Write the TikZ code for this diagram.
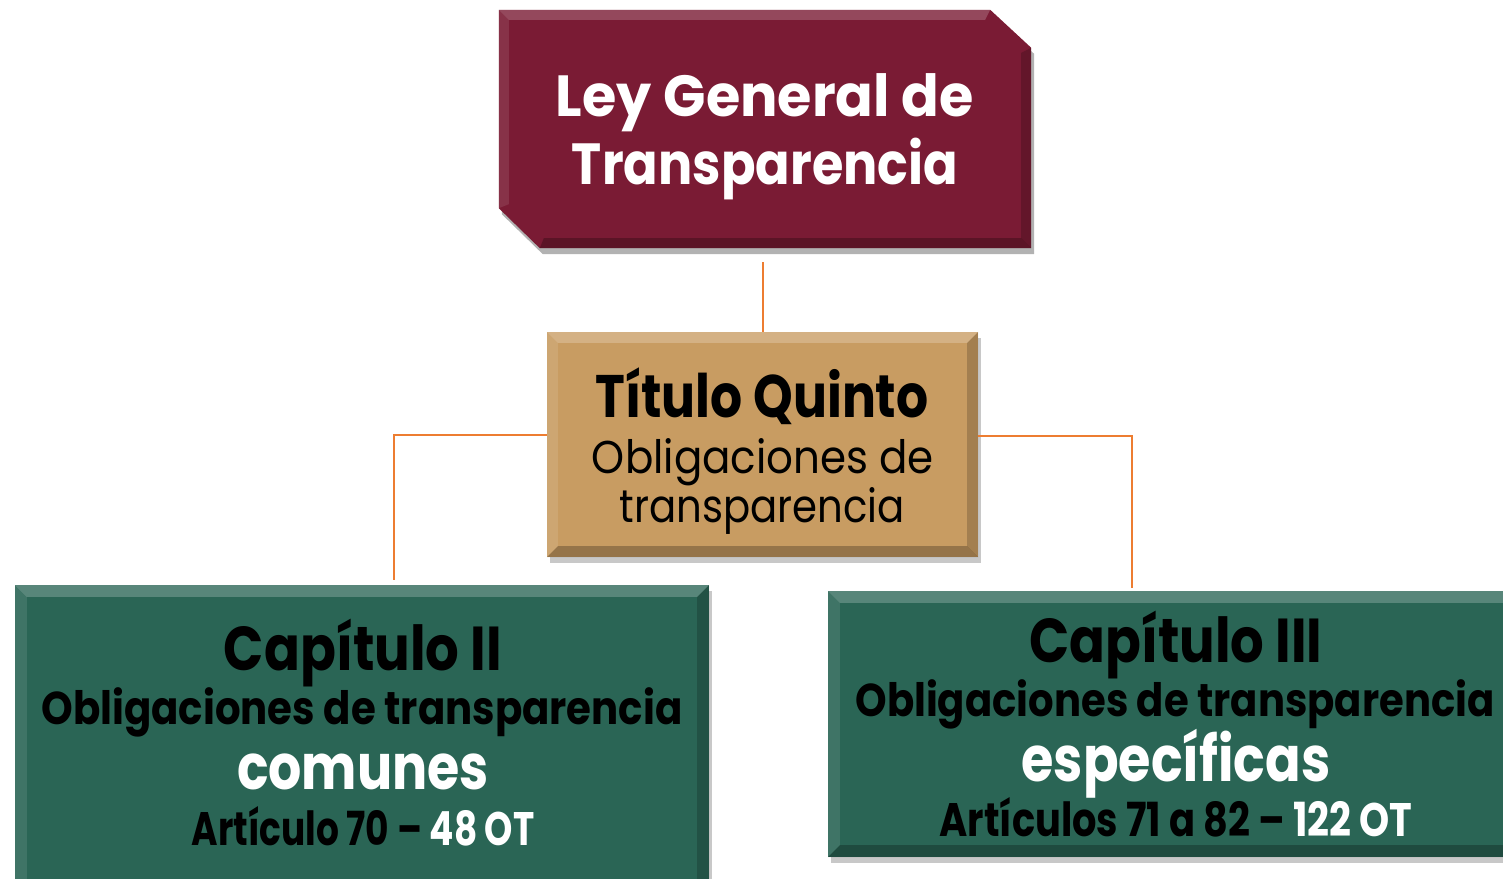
\documentclass[tikz,border=0pt]{standalone}
\usepackage{fontspec}
\setmainfont{Poppins}
\usepackage{graphicx}
\usetikzlibrary{shadows}
\definecolor{maroonbox}{HTML}{7A1B34}
\definecolor{tanbox}{HTML}{C89C62}
\definecolor{greenbox}{HTML}{2A6555}
\definecolor{orangeline}{HTML}{ED7D31}
\newcommand\fitline[3]{\resizebox{#1}{\height}{\fontsize{#2}{#2}\selectfont #3}}
\newcommand\bevelbox[2]{%
  \fill[white,opacity=.22] (#1.north west) -- (#1.north east) -- ([shift={(-#2,#2)}]#1.north east) -- ([shift={(#2,#2)}]#1.north west) -- cycle;
  \fill[white,opacity=.10] (#1.north west) -- ([shift={(#2,#2)}]#1.north west) -- ([shift={(#2,-#2)}]#1.south west) -- (#1.south west) -- cycle;
  \fill[black,opacity=.25] (#1.south west) -- (#1.south east) -- ([shift={(-#2,-#2)}]#1.south east) -- ([shift={(#2,-#2)}]#1.south west) -- cycle;
  \fill[black,opacity=.18] (#1.north east) -- ([shift={(-#2,#2)}]#1.north east) -- ([shift={(-#2,-#2)}]#1.south east) -- (#1.south east) -- cycle;
}
\tikzset{
  boxnode/.style={rectangle, inner sep=0pt, draw=none},
  shade box/.style={drop shadow={shadow xshift=3pt, shadow yshift=-6pt, opacity=.3, fill=black!70}},
  txt/.style={inner sep=0pt, anchor=base},
  conn/.style={draw=orangeline, line width=2pt},
}
\begin{document}
\begin{tikzpicture}[x=1pt,y=-1pt]
\useasboundingbox (0,0) rectangle (1503,878);
\clip (0,0) rectangle (1503,878);
\fill[white] (0,0) rectangle (1503,878);

% top box
\node[boxnode, minimum width=532pt, minimum height=238pt] (ley) at (765,129) {};
\fill[black,opacity=.3] ([shift={(3,6)}]ley.north west) -- ([shift={(-41,6)}]ley.north east) -- ([shift={(3,44)}]ley.north east) -- ([shift={(3,6)}]ley.south east) -- ([shift={(44,6)}]ley.south west) -- ([shift={(3,-34)}]ley.south west) -- cycle;
\fill[maroonbox] (ley.north west) -- ([shift={(-41,0)}]ley.north east) -- ([shift={(0,38)}]ley.north east) -- (ley.south east) -- ([shift={(41,0)}]ley.south west) -- ([shift={(0,-40)}]ley.south west) -- cycle;
\fill[white,opacity=.2] (ley.north west) -- ([shift={(-41,0)}]ley.north east) -- ([shift={(-46,10)}]ley.north east) -- ([shift={(10,10)}]ley.north west) -- cycle;
\fill[black,opacity=.25] (ley.south east) -- ([shift={(41,0)}]ley.south west) -- ([shift={(45,-10)}]ley.south west) -- ([shift={(-10,-10)}]ley.south east) -- cycle;
\fill[black,opacity=.18] ([shift={(0,38)}]ley.north east) -- (ley.south east) -- ([shift={(-10,-10)}]ley.south east) -- ([shift={(-10,43)}]ley.north east) -- cycle;
\fill[white,opacity=.1] (ley.north west) -- ([shift={(0,-40)}]ley.south west) -- ([shift={(10,-44)}]ley.south west) -- ([shift={(10,10)}]ley.north west) -- cycle;
\node[txt, text=white] at (765,116) {\fitline{418pt}{58}{\bfseries Ley General de}};
\node[txt, text=white] at (765,184) {\fitline{386pt}{58}{\bfseries Transparencia}};

% middle box
\node[boxnode, fill=tanbox, shade box, minimum width=431pt, minimum height=225pt] (tit) at (762.5,444.5) {};
\bevelbox{tit}{11}
\node[txt] at (762,417) {\fitline{333pt}{60}{\bfseries Título Quinto}};
\node[txt] at (763,473) {\fitline{342pt}{46}{Obligaciones de}};
\node[txt] at (762,522) {\fitline{285pt}{46}{transparencia}};

% left bottom box
\node[boxnode, fill=greenbox, shade box, minimum width=694pt, minimum height=310pt] (cap2) at (362,740) {};
\bevelbox{cap2}{12}
\node[txt] at (363,670) {\fitline{278pt}{62}{\bfseries Capítulo II}};
\node[txt] at (362,724) {\fitline{641pt}{46}{\bfseries Obligaciones de transparencia}};
\node[txt, text=white] at (363,789) {\fitline{252pt}{63}{\bfseries comunes}};
\node[txt] at (363,845) {\fitline{343pt}{47}{\bfseries Artículo 70 – \textcolor{white}{48 OT}}};

% right bottom box
\node[boxnode, fill=greenbox, shade box, minimum width=692pt, minimum height=266pt] (cap3) at (1174,724) {};
\bevelbox{cap3}{12}
\node[txt] at (1176,662) {\fitline{293pt}{62}{\bfseries Capítulo III}};
\node[txt] at (1175,716) {\fitline{639pt}{46}{\bfseries Obligaciones de transparencia}};
\node[txt, text=white] at (1176,781) {\fitline{309pt}{63}{\bfseries específicas}};
\node[txt] at (1176,836) {\fitline{473pt}{47}{\bfseries Artículos 71 a 82 – \textcolor{white}{122 OT}}};

% connectors
\draw[conn] (tit.north) -- ([yshift=-14pt]tit.north |- ley.south);
\draw[conn] ([yshift=10pt]tit.west) -| ([xshift=32pt,yshift=5pt]cap2.north);
\draw[conn] ([yshift=9pt]tit.east) -| ([xshift=-42pt,yshift=3pt]cap3.north);
\end{tikzpicture}
\end{document}
